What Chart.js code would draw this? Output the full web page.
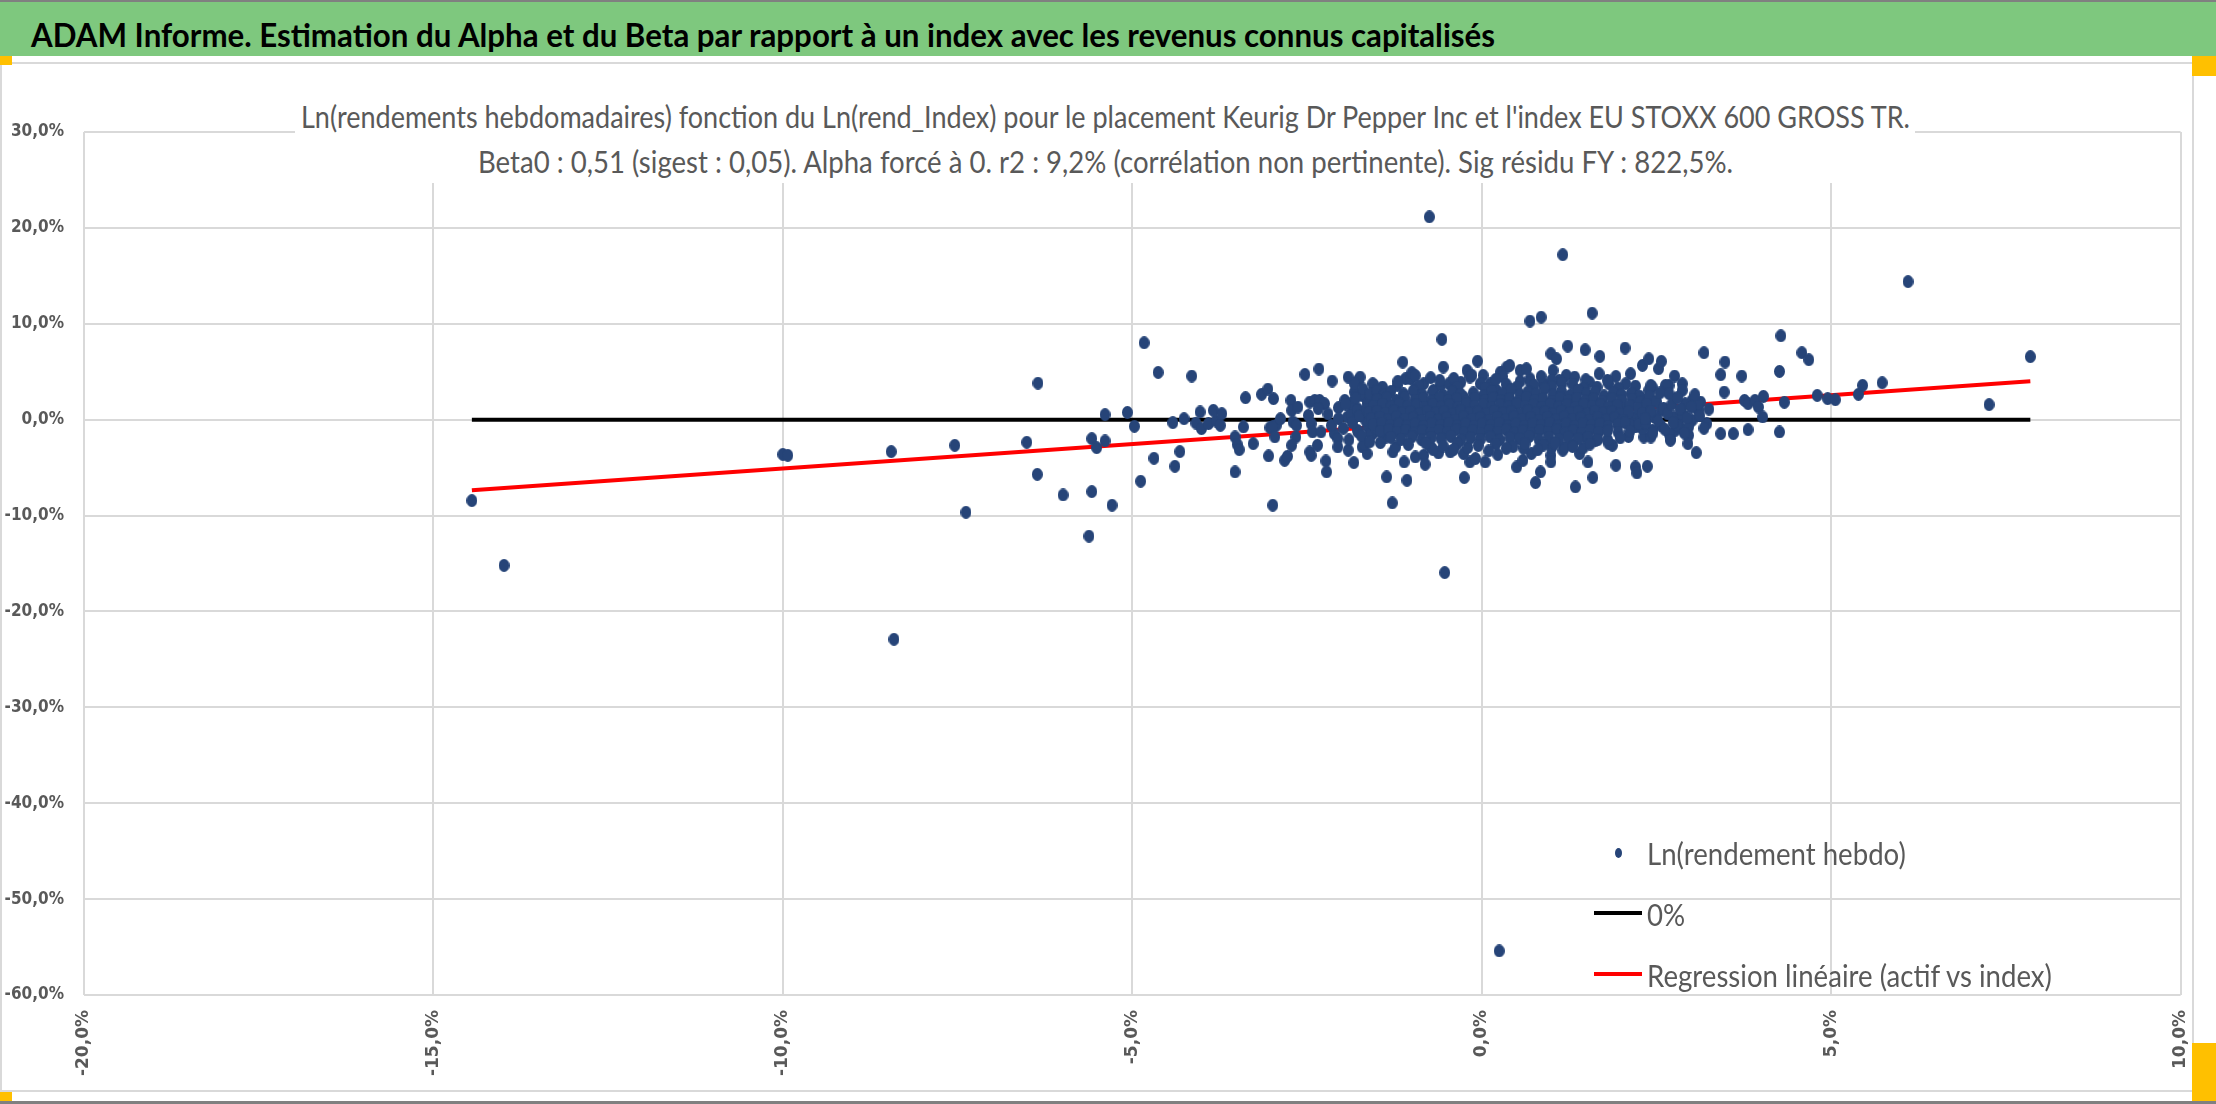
<!DOCTYPE html>
<html lang="fr">
<head>
<meta charset="utf-8">
<title>ADAM Informe - Alpha et Beta</title>
<script src="https://cdn.jsdelivr.net/npm/chart.js@4.4.1/dist/chart.umd.min.js"></script>
<style>
  html, body { margin: 0; padding: 0; background: #fff; }
  #page { position: relative; width: 2216px; height: 1104px; overflow: hidden; background: #fff; }
  #topline { position: absolute; left: 0; top: 0; width: 2216px; height: 2px; background: #808080; }
  #bar { position: absolute; left: 0; top: 2px; width: 2216px; height: 54px; background: #7ec87e; }
  .fit { position: absolute; display: inline-block; white-space: nowrap; transform-origin: 0 0; line-height: 1; }
  #title { left: 31px; top: 12px; font: bold 33px Lato, "DejaVu Sans Condensed", sans-serif; color: #000; }
  #frame { position: absolute; left: 0; top: 62px; width: 2190px; height: 1026px; border: 2px solid #d9d9d9; box-sizing: content-box; }
  #chart { position: absolute; left: 0; top: 0; }
  #subbox { position: absolute; left: 295px; top: 66px; width: 1620px; height: 117px; background: #fff; }
  .sub { font: 30px Lato, "DejaVu Sans Condensed", sans-serif; color: #595959; }
  #legend { position: absolute; left: 1594px; top: 830px; }
  .item { position: absolute; left: 0; height: 40px; width: 600px; }
  .item .mk { position: absolute; left: 0; top: 0; width: 48px; height: 40px; }
  .item .fit { left: 53px; top: 4px; font: 31px Lato, "DejaVu Sans Condensed", sans-serif; color: #595959; }
  .handle { position: absolute; background: #ffc000; }
  #botline { position: absolute; left: 0; top: 1101px; width: 2216px; height: 3px; background: #808080; }
</style>
</head>
<body>
<div id="page">
  <div id="topline"></div>
  <div id="bar"><span id="title" class="fit">ADAM Informe. Estimation du Alpha et du Beta par rapport à un index avec les revenus connus capitalisés</span></div>
  <div id="frame"></div>
  <canvas id="chart" width="2216" height="1104"></canvas>
  <div id="subbox"></div>
  <span id="sub1" class="fit sub" style="top:98px">Ln(rendements hebdomadaires) fonction du Ln(rend_Index) pour le placement Keurig Dr Pepper Inc et l'index EU STOXX 600 GROSS TR.</span>
  <span id="sub2" class="fit sub" style="top:143px">Beta0 : 0,51 (sigest : 0,05). Alpha forcé à 0. r2 : 9,2% (corrélation non pertinente). Sig résidu FY : 822,5%.</span>
  <div id="legend"></div>
  <div class="handle" style="left:0;top:56px;width:12px;height:9px"></div>
  <div class="handle" style="left:2192px;top:56px;width:24px;height:20px"></div>
  <div class="handle" style="left:0;top:1092px;width:12px;height:9px"></div>
  <div class="handle" style="left:2192px;top:1043px;width:24px;height:58px"></div>
  <div id="botline"></div>
</div>
<script>
// series labels
const seriesLabels = ["Ln(rendement hebdo)", "0%", "Regression linéaire (actif vs index)"];

// axis ticks (in %)
const xTicks = [-20, -15, -10, -5, 0, 5, 10];
const yTicks = [30, 20, 10, 0, -10, -20, -30, -40, -50, -60];

// weekly log-returns, [index %, asset %] - sparse points away from the cloud
const outerPoints = [
  [-14.45, -8.44], [-13.99, -15.2], [-8.41, -22.9], [-10.0, -3.62], [-9.93, -3.72], [-8.45, -3.33],
  [-7.54, -2.68], [-7.38, -9.66], [-6.51, -2.36], [-6.35, 3.81], [-6.36, -5.7], [-5.99, -7.85],
  [-4.83, 8.02], [-4.63, 4.93], [-4.15, 4.55], [-5.39, 0.52], [-5.07, 0.76], [-4.97, -0.69],
  [-5.58, -1.98], [-5.51, -2.92], [-5.39, -2.22], [-5.58, -7.5], [-5.29, -8.92], [-5.62, -12.15],
  [-4.88, -6.42], [-4.69, -4.03], [-4.39, -4.86], [-4.32, -3.33], [-4.42, -0.31], [-4.26, 0.10],
  [-4.03, 0.8], [-4.09, -0.35], [-4.01, -0.94], [-3.91, -0.42], [-3.84, 0.97], [-3.80, -0.14],
  [-3.74, -0.59], [-3.72, 0.63], [-3.53, -5.45], [-3.53, -1.8], [-3.5, -2.57], [-3.47, -3.13],
  [-3.41, -0.76], [-3.38, 2.29], [-3.27, -2.5], [-3.15, 2.64], [-3.06, 3.19], [-2.98, 2.19],
  [-3.03, -0.83], [-2.94, -0.59], [-2.99, -0.76], [-2.96, -1.8], [-2.99, -8.92], [-3.05, -3.78],
  [-2.88, 0.10], [-2.82, -4.24], [-2.78, -3.82], [-2.73, 2.01], [-2.72, 0.97], [-2.63, 1.32],
  [-2.70, -0.24], [-2.65, -0.59], [-2.66, -1.81], [-2.72, -2.67], [-2.53, 4.72], [-2.33, 5.28],
  [-2.46, 1.84], [-2.39, 2.01], [-2.32, 2.01], [-2.25, 1.67], [-2.34, 1.15], [-2.48, 0.45],
  [-2.44, -0.42], [-2.42, -1.28], [-2.30, -1.28], [-2.46, -3.37], [-2.44, -3.72], [-2.35, -2.67],
  [-2.23, -4.31], [-2.22, -5.45], [-2.14, 4.03], [-2.11, -1.46], [-2.06, -1.98], [-2.06, -2.85],
  [-2.05, 1.25], [-1.96, 2.01], [-1.91, 4.44], [-1.82, 2.88], [-1.77, 4.1], [-1.74, 4.44],
  [-1.91, -3.19], [-1.83, -4.48], [-1.77, -1.28], [-1.71, -2.85], [-1.64, -3.54], [-1.68, -2.57],
  [-1.92, 0.28], [-1.87, 0.63], [-1.78, 1.15], [-1.71, 2.53], [-1.64, 2.01], [-1.66, 0.28],
  [-1.56, 1.49], [-1.54, 3.58], [-1.42, 3.4], [-1.49, 2.36], [-1.42, 1.67], [-1.37, 2.01],
  [-1.63, -0.76], [-1.56, -1.46], [-1.47, -1.11], [-1.37, -1.81], [-1.36, -5.97], [-1.28, -8.68],
  [-1.27, -3.37], [-1.23, -2.85], [-1.11, -4.41], [-1.07, -6.32], [-1.13, 6.0], [-0.57, 8.37],
  [-0.55, 5.49], [-0.21, 5.14], [-0.06, 6.11], [0.02, 4.62], [0.27, 4.97], [-0.25, -6.04],
  [-0.17, -4.41], [-0.09, -4.06], [0.05, -4.41], [0.23, -3.65], [-0.95, -3.89], [-0.83, -3.72],
  [-0.81, -4.65], [-0.73, -2.85], [-0.62, -3.47], [-0.45, -3.37], [-0.26, -3.54],
  [-1.21, 3.58], [-1.09, 4.27], [-1.02, 4.27], [-0.95, 3.23], [-0.83, 3.75], [-0.73, 4.38],
  [-0.69, 3.06], [-0.59, 3.58], [-0.47, 3.75], [-0.38, 3.06], [-0.26, 2.36], [-0.17, 4.44],
  [-0.02, 3.75], [0.12, 3.75], [0.21, 3.06], [0.36, 5.49], [-0.14, 4.62], [1.16, -3.19],
  [0.69, 10.28], [0.85, 10.69], [1.58, 11.11], [1.23, 7.67], [1.48, 7.29], [1.69, 6.6],
  [2.05, 7.47], [0.99, 6.88], [1.07, 6.35], [1.02, 5.14], [2.30, 5.66], [2.39, 6.35],
  [2.53, 5.31], [2.57, 6.08], [2.76, 4.55], [3.18, 6.98], [3.48, 6.01], [3.42, 4.69],
  [3.47, 2.88], [3.72, 4.55], [4.28, 8.75], [4.26, 5.03], [4.58, 6.98], [4.68, 6.25],
  [3.76, 2.01], [3.81, 1.67], [3.91, 2.01], [3.96, 1.32], [4.03, 2.43], [4.02, 0.28],
  [4.33, 1.81], [3.42, -1.46], [3.60, -1.46], [3.81, -1.04], [4.26, -1.28], [3.22, -0.42],
  [4.8, 2.53], [4.95, 2.19], [5.06, 2.08], [5.39, 2.64], [5.45, 3.58], [5.73, 3.85],
  [3.01, 2.01], [3.13, 1.84], [3.1, 0.97], [3.01, -0.07], [2.96, -1.63], [2.95, -2.5],
  [3.07, -3.44], [2.70, -1.98], [2.77, -1.11], [2.84, -0.76], [2.87, 0.28], [2.87, 3.75],
  [2.87, 3.06], [2.68, 3.58], [2.65, 3.06], [2.44, 3.40], [2.39, 3.06], [2.34, 2.01],
  [2.56, -0.59], [2.44, -1.11], [2.32, -1.81], [2.42, -1.81], [2.30, -0.94], [1.92, -4.76],
  [2.20, -4.93], [2.22, -5.56], [2.37, -4.86], [1.59, -6.04], [1.34, -7.01], [0.77, -6.56],
  [0.84, -5.45], [0.5, -4.93], [1.52, -4.41], [1.40, -3.54], [1.30, -2.67], [1.19, -2.85],
  [0.99, -3.72], [0.99, -4.41], [0.71, -3.54], [0.59, -4.24], [1.87, -2.67], [1.82, -2.5],
  [1.63, -2.15], [1.49, -1.81], [2.13, 4.79], [1.92, 4.51], [2.06, 3.75], [1.82, 3.75],
  [1.68, 4.79], [1.54, 3.92], [1.49, 4.17], [1.21, 4.62], [1.33, 4.44], [1.11, 4.1],
  [0.88, 3.75], [0.69, 4.27], [0.55, 5.14], [0.64, 5.31], [0.40, 5.66],
  [2.06, 0.97], [2.20, 0.28], [2.30, 2.01], [2.39, 1.32], [2.42, 3.58], [2.56, 0.97],
  [2.63, 3.58], [2.68, 2.71], [2.75, 0.28], [2.80, -0.59], [2.91, 1.67], [3.10, 1.67],
  [2.96, -0.76], [2.68, -1.46], [2.20, -0.76], [2.11, -0.42], [2.25, -0.42], [2.46, 0.28],
  [2.87, 0.63], [2.70, -2.15], [-1.82, 3.75], [-1.56, 3.75], [-1.68, 2.71], [-1.87, 1.67],
  [-1.78, 0.97], [-1.63, 1.67], [-1.66, -0.07], [-1.78, -1.11], [-1.49, 0.63], [-1.59, -1.46],
  [-0.75, 21.15], [1.16, 17.2], [-0.53, -15.95], [0.25, -55.4], [6.1, 14.4], [7.26, 1.57], [7.85, 6.57]
];

// points on the edges of the cloud
const fringePoints = [
  [-2.2, 0.6], [-2.15, -0.6], [-2.05, 0.1], [-1.98, -0.9], [-1.95, 1.6], [-1.9, -2.1], [-1.85, -0.3],
  [-1.8, 2.3], [-1.75, 0.4], [-1.72, -1.7], [-1.7, 3.2], [-1.65, 1.1], [-1.6, -2.3], [-1.6, 2.7],
  [-1.52, -0.9], [-1.5, 3.0], [-1.45, -2.4], [-1.4, 2.6],
  [2.35, -0.35], [2.4, 2.4], [2.45, -1.4], [2.5, 1.9], [2.52, -0.1], [2.55, 2.8], [2.6, 1.2],
  [2.62, -1.0], [2.66, 0.6], [2.72, 1.6], [2.74, -0.3], [2.8, 2.3], [2.84, 1.1], [2.9, -1.4],
  [2.94, 0.2], [3.0, 1.3], [3.05, 2.6], [3.12, 0.4], [3.18, -0.9], [3.25, 1.1],
  [-1.0, 4.9], [-0.3, 3.9], [0.3, 4.5], [0.7, 3.9], [1.15, 3.8], [1.45, 3.3], [1.8, 4.1],
  [-0.7, -3.1], [-0.2, -2.9], [0.6, -3.0], [1.0, -2.9], [1.45, -2.95], [1.8, -2.1], [2.1, -1.75]
];

// the dense cloud around the origin, [index %, asset %]
const corePoints = [
  [-1.2, 4.0], [-0.95, 4.6], [-0.6, 4.1], [-0.4, 4.3], [0.2, 4.2], [0.55, 4.0], [0.85, 4.5], [1.0, 4.1],
  [-0.9, 3.5], [-0.35, 3.4], [0.05, 3.3], [0.35, 3.7], [0.5, 3.4], [0.75, 3.6], [1.0, 3.45], [1.3, 3.7],
  [1.65, 3.4], [1.95, 3.3], [2.2, 3.5],
  [-1.30, 2.95], [-1.12, 2.7], [-0.98, 3.0], [-0.85, 2.6], [-0.7, 2.85], [-0.55, 2.55], [-0.42, 2.9],
  [-0.3, 2.65], [-0.12, 2.8], [0.02, 2.5], [0.14, 2.95], [0.3, 2.7], [0.42, 3.1], [0.55, 2.6],
  [0.66, 2.9], [0.78, 2.7], [0.9, 3.2], [1.02, 2.6], [1.14, 2.95], [1.27, 2.55], [1.38, 3.05],
  [1.5, 2.7], [1.62, 2.9], [1.75, 2.5], [1.88, 2.8], [2.0, 2.6], [2.14, 2.75], [2.26, 2.45],
  [-1.5, 2.1], [-1.36, 2.3], [-1.22, 2.0], [-1.1, 2.35], [-0.96, 2.05], [-0.84, 2.25], [-0.72, 1.95],
  [-0.6, 2.3], [-0.48, 2.0], [-0.36, 2.2], [-0.22, 1.9], [-0.1, 2.25], [0.04, 2.0], [0.16, 2.3],
  [0.28, 1.95], [0.4, 2.2], [0.52, 1.9], [0.64, 2.35], [0.76, 2.0], [0.88, 2.2], [1.0, 1.9],
  [1.12, 2.3], [1.24, 2.0], [1.36, 2.25], [1.48, 1.95], [1.6, 2.2], [1.72, 1.9], [1.86, 2.2], [2.0, 1.95],
  [2.15, 2.15], [2.27, 1.85],
  [-1.55, 1.4], [-1.42, 1.6], [-1.3, 1.35], [-1.18, 1.65], [-1.06, 1.4], [-0.94, 1.55], [-0.82, 1.3],
  [-0.7, 1.6], [-0.58, 1.35], [-0.46, 1.55], [-0.34, 1.3], [-0.22, 1.65], [-0.1, 1.4], [0.02, 1.6],
  [0.14, 1.3], [0.26, 1.55], [0.38, 1.35], [0.5, 1.65], [0.62, 1.4], [0.74, 1.55], [0.86, 1.3],
  [0.98, 1.6], [1.1, 1.35], [1.22, 1.55], [1.34, 1.3], [1.46, 1.6], [1.58, 1.4], [1.7, 1.55],
  [1.82, 1.3], [1.94, 1.5], [2.12, 1.45], [2.24, 1.2], [2.36, 1.6],
  [-1.62, 0.75], [-1.5, 0.9], [-1.38, 0.65], [-1.26, 0.95], [-1.14, 0.7], [-1.02, 0.85], [-0.9, 0.6],
  [-0.78, 0.9], [-0.66, 0.7], [-0.54, 0.85], [-0.42, 0.6], [-0.3, 0.95], [-0.18, 0.7], [-0.06, 0.85],
  [0.06, 0.6], [0.18, 0.9], [0.3, 0.7], [0.42, 0.85], [0.54, 0.6], [0.66, 0.95], [0.78, 0.7],
  [0.9, 0.85], [1.02, 0.6], [1.14, 0.9], [1.26, 0.7], [1.38, 0.85], [1.5, 0.6], [1.62, 0.9],
  [1.74, 0.7], [1.86, 0.85], [1.98, 0.6], [2.1, 0.8], [2.3, 0.65], [2.42, 0.9],
  [-1.58, 0.1], [-1.46, 0.25], [-1.34, 0.0], [-1.22, 0.3], [-1.1, 0.05], [-0.98, 0.2], [-0.86, -0.05],
  [-0.74, 0.25], [-0.62, 0.0], [-0.5, 0.2], [-0.38, -0.05], [-0.26, 0.3], [-0.14, 0.05], [-0.02, 0.2],
  [0.1, -0.05], [0.22, 0.25], [0.34, 0.0], [0.46, 0.3], [0.58, 0.05], [0.7, 0.2], [0.82, -0.05],
  [0.94, 0.25], [1.06, 0.0], [1.18, 0.3], [1.3, 0.05], [1.42, 0.2], [1.54, -0.05], [1.66, 0.25],
  [1.78, 0.0], [1.9, 0.2], [2.02, -0.05], [2.34, 0.1],
  [-1.55, -0.5], [-1.43, -0.35], [-1.31, -0.6], [-1.19, -0.4], [-1.07, -0.65], [-0.95, -0.45],
  [-0.83, -0.7], [-0.71, -0.4], [-0.59, -0.6], [-0.47, -0.35], [-0.35, -0.65], [-0.23, -0.45],
  [-0.11, -0.7], [0.01, -0.4], [0.13, -0.6], [0.25, -0.35], [0.37, -0.65], [0.49, -0.45],
  [0.61, -0.7], [0.73, -0.4], [0.85, -0.6], [0.97, -0.35], [1.09, -0.65], [1.21, -0.45],
  [1.33, -0.7], [1.45, -0.4], [1.57, -0.6], [1.69, -0.45], [1.81, -0.7], [1.95, -0.5], [2.05, -0.3],
  [-1.45, -1.2], [-1.33, -1.05], [-1.21, -1.3], [-1.09, -1.1], [-0.97, -1.35], [-0.85, -1.15],
  [-0.73, -1.4], [-0.61, -1.1], [-0.49, -1.3], [-0.37, -1.05], [-0.25, -1.35], [-0.13, -1.15],
  [-0.01, -1.4], [0.11, -1.1], [0.23, -1.3], [0.35, -1.05], [0.47, -1.35], [0.59, -1.15],
  [0.71, -1.4], [0.83, -1.1], [0.95, -1.3], [1.07, -1.05], [1.19, -1.35], [1.31, -1.15],
  [1.43, -1.4], [1.55, -1.1], [1.67, -1.3], [1.8, -1.15], [1.95, -1.3], [2.12, -1.2],
  [-1.3, -1.85], [-1.15, -2.05], [-1.0, -1.8], [-0.86, -2.1], [-0.72, -1.85], [-0.58, -2.0],
  [-0.44, -1.75], [-0.3, -2.1], [-0.16, -1.9], [-0.02, -2.05], [0.12, -1.8], [0.26, -2.1],
  [0.4, -1.9], [0.54, -2.0], [0.68, -1.75], [0.82, -2.1], [0.96, -1.85], [1.1, -2.05],
  [1.24, -1.8], [1.38, -2.0], [1.52, -1.85], [1.66, -2.1], [1.98, -1.9],
  [-1.05, -2.6], [-0.8, -2.45], [-0.55, -2.75], [-0.35, -2.5], [-0.05, -2.7], [0.2, -2.55],
  [0.45, -2.8], [0.62, -2.5], [0.88, -2.65], [1.05, -2.45], [1.3, -2.8], [1.55, -2.55],
  [-0.4, -3.1], [0.1, -3.25], [0.35, -3.0], [0.8, -3.15]
];

// end points of the 0% reference and of the fitted line (beta 0.51)
const zeroLine = [[-14.45, 0], [7.85, 0]];
const regressionLine = [[-14.45, -7.37], [7.85, 4.0]];

const dotColor = "#264478";
const gridColor = "#d9d9d9";
const labelColor = "#595959";

function toXY(pairs) {
    return pairs.map((p) => ({ x: p[0], y: p[1] }));
}

function pct(v) {
    return v.toFixed(1).replace(".", ",") + "%";
}

// slightly tall marker, like the Excel one
function makeDot(w, h) {
    const c = document.createElement("canvas");
    c.width = w;
    c.height = h;
    const g = c.getContext("2d");
    g.fillStyle = dotColor;
    g.beginPath();
    g.ellipse(w / 2, h / 2, w / 2, h / 2, 0, 0, Math.PI * 2);
    g.fill();
    return c;
}

// squeeze a text span to a measured width (Calibri is not installed)
function fitText(id, width, center) {
    const el = document.getElementById(id);
    const w = el.getBoundingClientRect().width;
    el.style.transform = "scaleX(" + (width / w) + ")";
    if (center !== undefined) el.style.left = (center - width / 2) + "px";
}

const yTickFont = { family: "'DejaVu Sans Condensed', 'DejaVu Sans', sans-serif", size: 17, weight: "bold" };
const xTickFont = { family: "'DejaVu Sans', sans-serif", size: 17, weight: "bold" };

const chart = new Chart(document.getElementById("chart"), {
    type: "scatter",
    data: {
        datasets: [
            {
                label: seriesLabels[0],
                data: toXY(outerPoints.concat(fringePoints, corePoints)),
                pointStyle: makeDot(11, 13),
                pointRadius: 5,
                backgroundColor: dotColor,
                borderColor: dotColor,
            },
            {
                label: seriesLabels[1],
                data: toXY(zeroLine),
                showLine: true,
                borderColor: "#000000",
                borderWidth: 4,
                pointRadius: 0,
            },
            {
                label: seriesLabels[2],
                data: toXY(regressionLine),
                showLine: true,
                borderColor: "#ff0000",
                borderWidth: 4,
                pointRadius: 0,
            },
        ],
    },
    options: {
        responsive: false,
        animation: false,
        devicePixelRatio: 1,
        layout: { padding: { left: 0, top: 132, right: 24, bottom: 19 } },
        plugins: { legend: { display: false }, tooltip: { enabled: false } },
        scales: {
            x: {
                type: "linear",
                min: xTicks[0],
                max: xTicks[xTicks.length - 1],
                afterBuildTicks: (s) => { s.ticks = xTicks.map((v) => ({ value: v })); },
                afterFit: (s) => { s.height = 90; },
                grid: { color: gridColor, lineWidth: 2, drawTicks: false },
                border: { display: false },
                ticks: {
                    minRotation: 90, maxRotation: 90, padding: 15,
                    color: labelColor, font: xTickFont,
                    callback: (v) => pct(v),
                },
            },
            y: {
                type: "linear",
                min: yTicks[yTicks.length - 1],
                max: yTicks[0],
                afterBuildTicks: (s) => { s.ticks = yTicks.slice().reverse().map((v) => ({ value: v })); },
                afterFit: (s) => { s.width = 84; },
                grid: { color: gridColor, lineWidth: 2, drawTicks: false },
                border: { display: false },
                ticks: {
                    padding: 20, color: labelColor, font: yTickFont,
                    callback: (v) => pct(v),
                },
            },
        },
    },
});

// legend drawn as html inside the plot, bottom right
function buildLegend() {
    const box = document.getElementById("legend");
    const rows = [0, 61, 122];
    chart.data.datasets.forEach((ds, i) => {
        const item = document.createElement("div");
        item.className = "item";
        item.style.top = rows[i] + "px";
        const mk = document.createElement("div");
        mk.className = "mk";
        if (ds.showLine) {
            mk.innerHTML = '<div style="position:absolute;left:0;top:20px;width:48px;height:4px;background:' + ds.borderColor + '"></div>';
        } else {
            mk.innerHTML = '<div style="position:absolute;left:21px;top:18px;width:7px;height:10px;border-radius:50%;background:' + ds.backgroundColor + '"></div>';
        }
        const tx = document.createElement("span");
        tx.className = "fit";
        tx.id = "leg" + i;
        tx.textContent = ds.label;
        item.appendChild(mk);
        item.appendChild(tx);
        box.appendChild(item);
    });
    // same squeeze for all three labels, measured on the longest one
    const longest = document.getElementById("leg2").getBoundingClientRect().width;
    const k = 405 / longest;
    [0, 1, 2].forEach((i) => { document.getElementById("leg" + i).style.transform = "scaleX(" + k + ")"; });
}

function layoutTexts() {
    fitText("title", 1464);
    fitText("sub1", 1609, 1105);
    fitText("sub2", 1255, 1105);
    buildLegend();
}

if (document.fonts && document.fonts.ready) {
    document.fonts.ready.then(layoutTexts);
} else {
    layoutTexts();
}
</script>
</body>
</html>
